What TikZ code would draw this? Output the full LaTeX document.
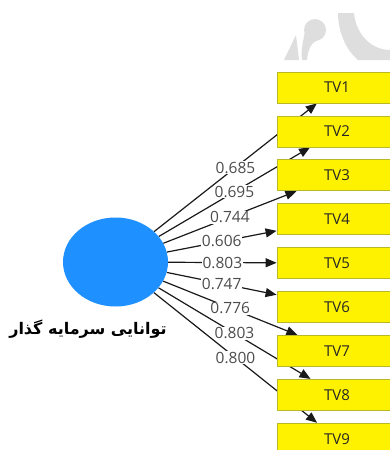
\documentclass[tikz,border=0pt]{standalone}
\usepackage{fontspec}
\setmainfont{Open Sans}
\newfontfamily\arabicfont[Script=Arabic]{DejaVu Sans}
\TeXXeTstate=1
\usetikzlibrary{arrows.meta,shapes.geometric}
\definecolor{lvblue}{RGB}{30,144,255}
\definecolor{boxedge}{RGB}{185,185,40}
\definecolor{wmark}{RGB}{222,222,222}
\pgfdeclarelayer{bg}
\pgfsetlayers{bg,main}
\begin{document}
\begin{tikzpicture}[x=1pt,y=-1pt,
  indbox/.style={draw=boxedge, line width=0.8pt, fill=yellow, minimum width=120pt, minimum height=31pt, inner sep=0pt, text=black!85, font=\fontsize{15}{18}\selectfont},
  latent/.style={ellipse, fill=lvblue, minimum width=105pt, minimum height=89pt, inner sep=0pt},
  load/.style={-{Triangle[length=11pt,width=9pt]}, line width=1.2pt, draw=black!90},
  lbl/.style={midway, fill=white, inner sep=0.8pt, text=black!70, font=\fontsize{15.5}{18}\selectfont}]
\useasboundingbox (0,0) rectangle (390,450);
\clip (0,0) rectangle (390,450);
% watermark
\fill[wmark] (284,60) -- (296,35) -- (299,60) -- cycle;
\fill[wmark] (315,30) circle[radius=11];
\fill[wmark] (305,32) .. controls (302,45) and (301,52) .. (302,60) -- (307,60) .. controls (308,50) and (311,42) .. (318,40) -- cycle;
\fill[wmark] (338,13) -- (354,13) .. controls (356,35) and (372,50) .. (390,50) -- (390,60) -- (358,60) .. controls (346,50) and (338,32) .. (338,13) -- cycle;
% latent variable
\node[latent] (lv) at (115.5,262) {};
\node (lvname) at (88,329) {\arabicfont\bfseries\fontsize{16}{19}\selectfont\beginR توانایی سرمایه گذار\endR};
% indicators
\foreach \i [evaluate=\i as \yy using 87.5+43.9*(\i-1)] in {1,...,9} {
  \node[indbox] (tv\i) at (337,\yy) {TV\i};
}
\begin{pgfonlayer}{bg}
\draw[load] (lv) -- node[lbl] {0.685} (tv1);
\draw[load] (lv) -- node[lbl] {0.695} (tv2);
\draw[load] (lv) -- node[lbl] {0.744} (tv3);
\draw[load] (lv) -- node[lbl] {0.606} (tv4);
\draw[load] (lv) -- node[lbl] {0.803} (tv5);
\draw[load] (lv) -- node[lbl] {0.747} (tv6);
\draw[load] (lv) -- node[lbl] {0.776} (tv7);
\draw[load] (lv) -- node[lbl] {0.803} (tv8);
\draw[load] (lv) -- node[lbl] {0.800} (tv9);
\end{pgfonlayer}
\end{tikzpicture}
\end{document}
